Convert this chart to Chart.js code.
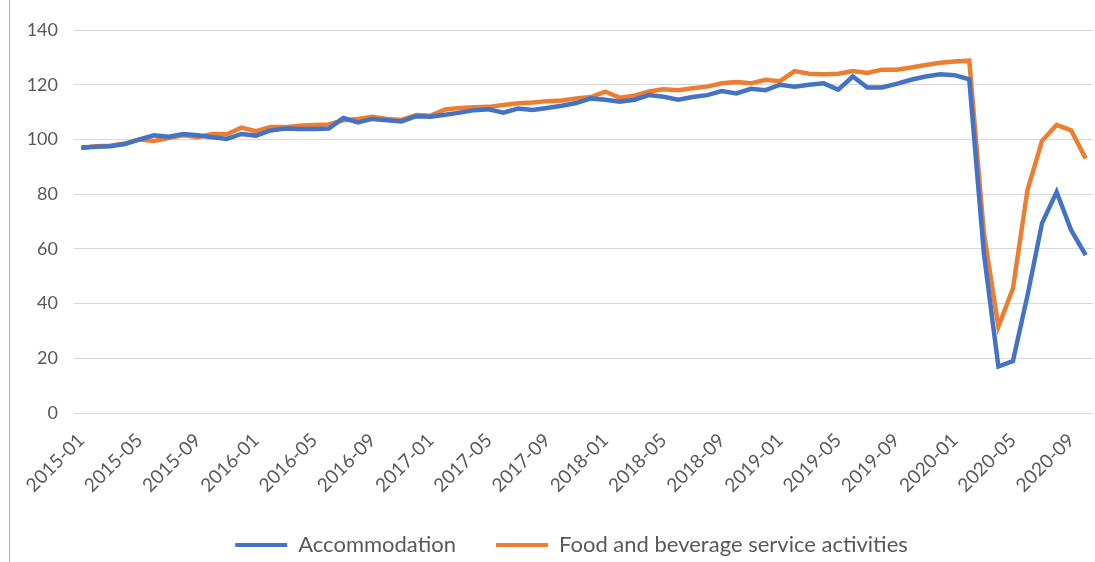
<!DOCTYPE html>
<html>
<head>
<meta charset="utf-8">
<script src="https://cdn.jsdelivr.net/npm/chart.js@4"></script>
<style>
  body { margin: 0; background: #fff; }
  #wrap { position: relative; width: 1095px; height: 562px; }
  #edge { position: absolute; left: 9px; top: 0; width: 1px; height: 562px; background: #b0b0b0; }
  canvas { position: absolute; left: 0; top: 0; }
</style>
</head>
<body>
<div id="wrap">
  <div id="edge"></div>
  <canvas id="lineChart" width="1095" height="562"></canvas>
</div>
<script>
// months 2015-01 .. 2020-10
const meses = [];
for (let a = 2015; a <= 2020; a++) {
    for (let m = 1; m <= 12; m++) {
        if (a === 2020 && m > 10) break;
        meses.push(a + '-' + String(m).padStart(2, '0'));
    }
}

const accommodation = [
    97, 97.3, 97.5, 98.3, 100, 101.5, 101, 102, 101.5, 100.8, 100.2, 102,
    101.4, 103.3, 104, 103.8, 103.8, 104, 107.8, 106.2, 107.5, 107, 106.6, 108.5,
    108.3, 109, 109.8, 110.7, 111, 109.8, 111.3, 110.8, 111.5, 112.3, 113.3, 115,
    114.5, 113.8, 114.5, 116.2, 115.6, 114.5, 115.5, 116.2, 117.7, 116.8, 118.5, 118,
    120, 119.3, 120, 120.5, 118.2, 123, 119, 119, 120.3, 121.8, 123, 123.8,
    123.5, 122, 58.5, 17, 19, 43, 69.4, 80.8, 66.8, 57.7
];

const foodBeverage = [
    97, 97.5, 97.7, 98.5, 100, 99.4, 100.5, 101.5, 100.8, 102, 101.9, 104.3,
    103, 104.5, 104.5, 105, 105.3, 105.5, 107, 107.5, 108.3, 107.5, 107.1, 108.9,
    108.7, 111, 111.5, 111.8, 111.9, 112.6, 113.2, 113.5, 114, 114.2, 115, 115.5,
    117.5, 115.2, 116, 117.5, 118.3, 118, 118.7, 119.3, 120.5, 121, 120.5, 121.8,
    121.3, 125, 124, 123.8, 124, 125, 124.3, 125.5, 125.5, 126.3, 127.2, 128,
    128.5, 128.8, 66, 31.5, 45.5, 81.5, 99.5, 105.3, 103.3, 93
];

const yTicks = [0, 20, 40, 60, 80, 100, 120, 140];

const azul = '#4472C4';
const naranja = '#ED7D31';
const gris = '#595959';
const fuente = 'Lato, "Open Sans", sans-serif';

// legend box shorter than the default, and centred a bit to the right
const legendFit = {
    id: 'legendFit',
    beforeInit(chart) {
        const orig = chart.legend.fit;
        chart.legend.fit = function() {
            orig.call(this);
            this.height = 68;
        };
    },
    afterLayout(chart) {
        chart.legend.left += 50;
    }
};

document.addEventListener("DOMContentLoaded", function() {
    const ctx = document.getElementById('lineChart').getContext('2d');
    new Chart(ctx, {
        type: 'line',
        data: {
            labels: meses,
            datasets: [{
                label: 'Accommodation',
                data: accommodation,
                borderColor: azul,
                backgroundColor: azul,
                borderWidth: 4.5,
                pointRadius: 0,
                tension: 0,
                fill: false
            }, {
                label: 'Food and beverage service activities',
                data: foodBeverage,
                borderColor: naranja,
                backgroundColor: naranja,
                borderWidth: 4.5,
                pointRadius: 0,
                tension: 0,
                fill: false
            }]
        },
        plugins: [legendFit],
        options: {
            responsive: false,
            animation: false,
            layout: { padding: { top: 30, right: 2, bottom: 0, left: 0 } },
            plugins: {
                tooltip: { enabled: false },
                legend: {
                    position: 'bottom',
                    labels: {
                        color: gris,
                        font: { family: fuente, size: 22 },
                        boxWidth: 52,
                        boxHeight: 4,
                        padding: 40,
                        generateLabels: function(chart) {
                            const items = Chart.defaults.plugins.legend.labels.generateLabels(chart);
                            items.forEach(it => { it.lineWidth = 0; });
                            return items;
                        }
                    }
                }
            },
            scales: {
                x: {
                    offset: true,
                    grid: { display: false },
                    border: { display: false },
                    ticks: {
                        autoSkip: false,
                        maxRotation: 45,
                        minRotation: 45,
                        padding: 8,
                        color: gris,
                        font: { family: fuente, size: 19 },
                        callback: function(v, i) {
                            return i % 4 === 0 ? meses[i] : '';
                        }
                    },
                    afterFit: function(scale) {
                        scale.height = 81;
                        scale.paddingRight = 0;
                    }
                },
                y: {
                    min: 0,
                    max: 140,
                    afterBuildTicks: function(scale) {
                        scale.ticks = yTicks.map(v => ({ value: v }));
                    },
                    grid: { color: '#D9D9D9', lineWidth: 1, drawTicks: false },
                    border: { display: false },
                    ticks: {
                        padding: 16,
                        color: gris,
                        font: { family: fuente, size: 18 }
                    },
                    afterFit: function(scale) { scale.width = 74; }
                }
            }
        }
    });
});
</script>
</body>
</html>
